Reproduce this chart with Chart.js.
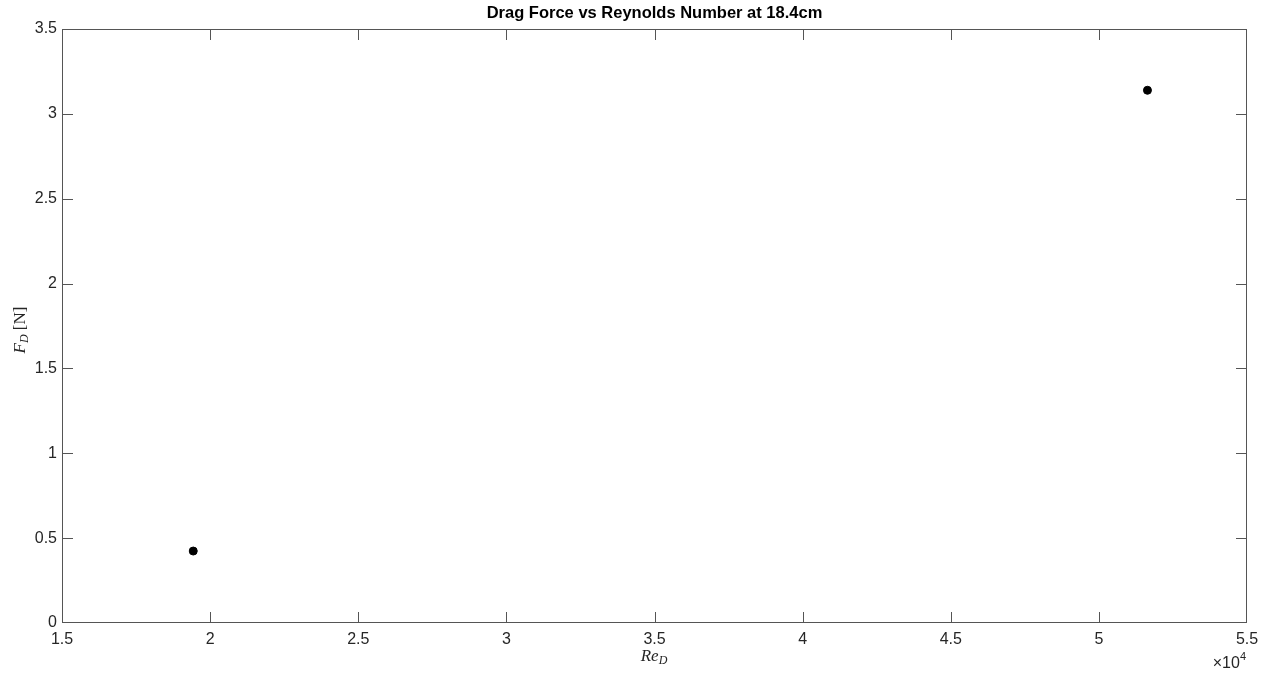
<!DOCTYPE html>
<html>
<head>
<meta charset="utf-8">
<script src="https://cdn.jsdelivr.net/npm/chart.js@4/dist/chart.umd.min.js"></script>
<style>
  html, body { margin: 0; padding: 0; background: #ffffff; }
  #wrap { width: 1267px; height: 675px; position: relative; }
</style>
</head>
<body>
<div id="wrap"><canvas id="c" width="1267" height="675"></canvas></div>
<script>
// ---- data ----
const reynolds = [19430, 51640];      // Re_D
const dragForce = [0.424, 3.139];     // F_D [N]
const xTicks = [15000, 20000, 25000, 30000, 35000, 40000, 45000, 50000, 55000];
const yTicks = [0, 0.5, 1, 1.5, 2, 2.5, 3, 3.5];
const titleText = 'Drag Force vs Reynolds Number at 18.4cm';

const AXIS = '#262626';
const FONT = "'Liberation Sans', Arial, sans-serif";

const boxPlugin = {
  id: 'matlabBox',
  afterDraw(chart) {
    const ctx = chart.ctx;
    const a = chart.chartArea;
    const xs = chart.scales.x, ys = chart.scales.y;
    const L = 11;
    ctx.save();
    ctx.strokeStyle = '#555555';
    ctx.lineWidth = 1;
    ctx.strokeRect(Math.round(a.left) + 0.5, Math.round(a.top) + 0.5,
                   Math.round(a.right - a.left) - 1, Math.round(a.bottom - a.top) - 1);
    ctx.beginPath();
    xTicks.forEach(v => {
      const px = Math.round(xs.getPixelForValue(v)) + 0.5;
      if (px < a.left + 2 || px > a.right - 2) return;
      ctx.moveTo(px, a.bottom); ctx.lineTo(px, a.bottom - L);
      ctx.moveTo(px, a.top); ctx.lineTo(px, a.top + L);
    });
    yTicks.forEach(v => {
      const py = Math.round(ys.getPixelForValue(v)) + 0.5;
      if (py < a.top + 2 || py > a.bottom - 2) return;
      ctx.moveTo(a.left, py); ctx.lineTo(a.left + L, py);
      ctx.moveTo(a.right, py); ctx.lineTo(a.right - L, py);
    });
    ctx.stroke();

    // axis titles (italic serif with subscripts)
    ctx.fillStyle = AXIS;
    const serifI = "italic 17px 'Liberation Serif', 'DejaVu Serif', serif";
    const serifIsub = "italic 12px 'Liberation Serif', 'DejaVu Serif', serif";
    const serif = "17px 'Liberation Serif', 'DejaVu Serif', serif";
    // x title: Re_D
    ctx.textBaseline = 'alphabetic';
    ctx.font = serifI;
    const w1 = ctx.measureText('Re').width;
    ctx.font = serifIsub;
    const w2 = ctx.measureText('D').width;
    let cx = 654 - (w1 + w2) / 2;
    ctx.font = serifI; ctx.textAlign = 'left';
    ctx.fillText('Re', cx, 661);
    ctx.font = serifIsub;
    ctx.fillText('D', cx + w1, 664);

    // y title: F_D [N]
    ctx.save();
    ctx.translate(25, 330);
    ctx.rotate(-Math.PI / 2);
    ctx.font = serifI;
    const f1 = ctx.measureText('F').width;
    ctx.font = serifIsub;
    const f2 = ctx.measureText('D').width;
    ctx.font = serif;
    const f3 = ctx.measureText(' [N]').width;
    let sx = -(f1 + f2 + f3) / 2;
    ctx.font = serifI; ctx.fillText('F', sx, 0);
    ctx.font = serifIsub; ctx.fillText('D', sx + f1, 3);
    ctx.font = serif; ctx.fillText(' [N]', sx + f1 + f2, 0);
    ctx.restore();

    // exponent label
    ctx.textAlign = 'right';
    ctx.font = '11px ' + FONT;
    const w4 = ctx.measureText('4').width;
    ctx.font = '16px ' + FONT;
    ctx.fillText('\u00d710', a.right - w4 - 1, 668);
    ctx.font = '11px ' + FONT;
    ctx.fillText('4', a.right - 1, 660);
    ctx.restore();
  }
};

new Chart(document.getElementById('c'), {
  type: 'scatter',
  data: {
    datasets: [{
      data: reynolds.map((x, i) => ({ x: x, y: dragForce[i] })),
      backgroundColor: '#000000',
      borderColor: '#000000',
      pointRadius: 4,
      pointHoverRadius: 4
    }]
  },
  options: {
    responsive: false,
    animation: false,
    devicePixelRatio: 1,
    layout: { padding: { left: 0, right: 20, top: 0, bottom: 0 } },
    plugins: {
      legend: { display: false },
      tooltip: { enabled: false },
      title: {
        display: true,
        fullSize: false,
        text: titleText,
        color: '#000000',
        font: { family: FONT, size: 16.5, weight: 'bold', lineHeight: 1.2 },
        padding: { top: 4, bottom: 5.2 }
      }
    },
    scales: {
      x: {
        type: 'linear',
        min: 15000, max: 55000,
        afterBuildTicks: s => { s.ticks = xTicks.map(v => ({ value: v })); },
        afterFit: s => { s.height = 52; },
        grid: { display: false, drawTicks: false },
        border: { display: false },
        ticks: {
          color: AXIS, padding: 7,
          font: { family: FONT, size: 16 },
          maxRotation: 0, autoSkip: false,
          callback: v => String(+(v / 10000).toFixed(1))
        }
      },
      y: {
        type: 'linear',
        min: 0, max: 3.5,
        afterBuildTicks: s => { s.ticks = yTicks.map(v => ({ value: v })); },
        afterFit: s => { s.width = 62; },
        grid: { display: false, drawTicks: false },
        border: { display: false },
        ticks: {
          color: AXIS, padding: 5,
          font: { family: FONT, size: 16 },
          autoSkip: false,
          callback: v => String(v)
        }
      }
    }
  },
  plugins: [boxPlugin]
});
</script>
</body>
</html>
